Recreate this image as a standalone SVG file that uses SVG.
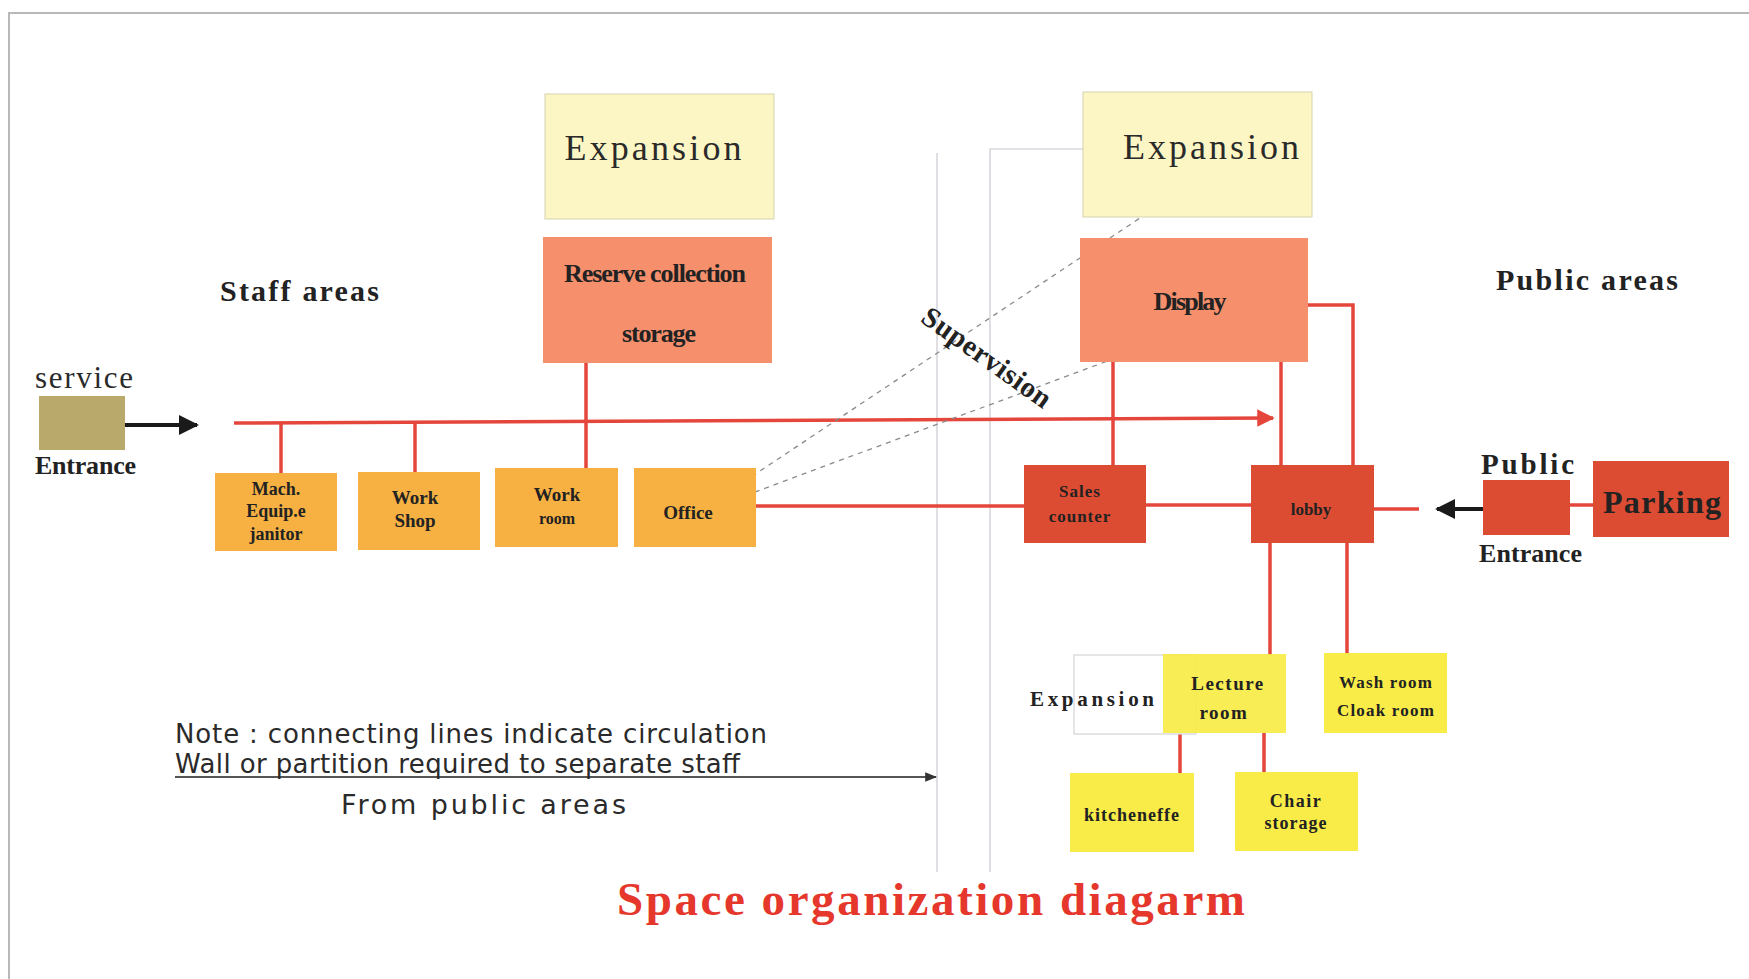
<svg xmlns="http://www.w3.org/2000/svg" width="1749" height="979" viewBox="0 0 1749 979">
<style>
.frame{stroke:#b8b8b8;stroke-width:2;fill:none}
.guide{stroke:#c8c8d0;stroke-width:1.2;fill:none}
.red{stroke:#e5463b;stroke-width:3.5;fill:none}
.blk{stroke:#1a1a1a;stroke-width:4;fill:none}
.dash{stroke:#8a8a8a;stroke-width:1.3;stroke-dasharray:5 5;fill:none}
.exp{fill:#fcf6c4;stroke:#d6d2b0;stroke-width:1}
.salmon{fill:#f58f6c}
.org{fill:#f6b142}
.rd{fill:#dc4c33}
.yel{fill:#f9ec48}
.bf{font-family:"Liberation Serif",serif;font-weight:bold;fill:#222}
.wf{font-family:"Liberation Serif",serif;fill:#2a2a2a}
.sf{font-family:"DejaVu Sans",sans-serif;fill:#2a2a2a}
.c{text-anchor:middle;dominant-baseline:central}
</style>
<defs>
<marker id="ab" viewBox="0 0 10 10" refX="9" refY="5" markerWidth="5" markerHeight="5" orient="auto" markerUnits="strokeWidth"><path d="M0,0 L10,5 L0,10 z" fill="#1a1a1a"/></marker>
<marker id="ar" viewBox="0 0 10 10" refX="9" refY="5" markerWidth="8" markerHeight="5" orient="auto" markerUnits="strokeWidth"><path d="M0,0 L10,5 L0,10 z" fill="#e5463b"/></marker>
<marker id="as" viewBox="0 0 10 10" refX="9" refY="5" markerWidth="6" markerHeight="6" orient="auto" markerUnits="strokeWidth"><path d="M0,1 L10,5 L0,9 z" fill="#333"/></marker>
</defs>
<rect width="1749" height="979" fill="#ffffff"/>
<path class="frame" d="M9,979 V13 H1749"/>
<g id="guides">
<path class="guide" d="M937,153 V872"/>
<path class="guide" d="M990,872 V149 H1107"/>
</g>
<g id="connectors">
<path class="red" d="M234,423 L1273,418" marker-end="url(#ar)"/>
<path class="red" d="M281,423 V473"/>
<path class="red" d="M415,423 V472"/>
<path class="red" d="M586,345 V485"/>
<path class="red" d="M756,506 H1024"/>
<path class="red" d="M1146,505 H1251"/>
<path class="red" d="M1374,509 H1419"/>
<path class="red" d="M1113,352 V465"/>
<path class="red" d="M1281,352 V465"/>
<path class="red" d="M1308,305 H1353 V465"/>
<path class="red" d="M1270,543 V655"/>
<path class="red" d="M1347,543 V653"/>
<path class="red" d="M1180,734 V773"/>
<path class="red" d="M1264,733 V772"/>
<path class="red" d="M1570,505 H1593"/>
<path class="blk" d="M125,425 H197" marker-end="url(#ab)"/>
<path class="blk" d="M1483,509 H1437" marker-end="url(#ab)"/>
<path class="dash" d="M727,493 L1149,212"/>
<path class="dash" d="M736,499 L1210,323"/>
<path stroke="#555" stroke-width="2" fill="none" d="M175,777 H936" marker-end="url(#as)"/>
</g>
<g id="labels">
<text class="bf" x="220" y="301" font-size="30" textLength="159">Staff areas</text>
<text class="bf" x="1496" y="290" font-size="30" textLength="182">Public areas</text>
<text class="wf" x="35" y="388" font-size="31" textLength="98">service</text>
<text class="bf" x="35" y="474" font-size="26" textLength="101">Entrance</text>
<text class="bf" x="1481" y="474" font-size="29" textLength="93">Public</text>
<text class="bf" x="1479" y="562" font-size="26" textLength="103">Entrance</text>
<text class="bf" transform="translate(987,357) rotate(35.5)" text-anchor="middle" dominant-baseline="central" font-size="29" textLength="152">Supervision</text>
<text class="sf" x="175" y="743" font-size="26" textLength="592">Note : connecting lines indicate circulation</text>
<text class="sf" x="175" y="773" font-size="26" textLength="565">Wall or partition required to separate staff</text>
<text class="sf" x="341" y="814" font-size="27" textLength="285">From public areas</text>
<text x="931" y="915" text-anchor="middle" font-family="Liberation Serif, serif" font-weight="bold" font-size="47" fill="#e5372c" textLength="628">Space organization diagarm</text>
</g>
<g id="service-entrance"><rect x="39" y="396" width="86" height="54" fill="#b9a96b"/></g>
<g id="expansion-staff"><rect class="exp" x="545" y="94" width="229" height="125"/><text class="wf c" x="653" y="148" font-size="36" textLength="177">Expansion</text></g>
<g id="reserve"><rect class="salmon" x="543" y="237" width="229" height="126"/><text class="bf c" x="655" y="273" font-size="26" textLength="182">Reserve collection</text><text class="bf c" x="659" y="333" font-size="26" textLength="74">storage</text></g>
<g id="mach"><rect class="org" x="215" y="473" width="122" height="78"/><text class="bf c" font-size="18" x="276" y="489">Mach.</text><text class="bf c" font-size="18" x="276" y="511">Equip.e</text><text class="bf c" font-size="18" x="276" y="534">janitor</text></g>
<g id="workshop"><rect class="org" x="358" y="472" width="122" height="78"/><text class="bf c" font-size="19" x="415" y="497">Work</text><text class="bf c" font-size="19" x="415" y="520">Shop</text></g>
<g id="workroom"><rect class="org" x="495" y="468" width="123" height="79"/><text class="bf c" font-size="19" x="557" y="494">Work</text><text class="bf c" font-size="16" x="557" y="518">room</text></g>
<g id="office"><rect class="org" x="634" y="468" width="122" height="79"/><text class="bf c" font-size="19" x="688" y="512">Office</text></g>
<g id="expansion-public"><rect class="exp" x="1083" y="92" width="229" height="125"/><text class="wf c" x="1211" y="147" font-size="36" textLength="176">Expansion</text></g>
<g id="display"><rect class="salmon" x="1080" y="238" width="228" height="124" fill="#f79568"/><text class="bf c" x="1190" y="301" font-size="26" textLength="73">Display</text></g>
<g id="sales"><rect class="rd" x="1024" y="465" width="122" height="78"/><text class="bf c" font-size="17" x="1080" y="491" letter-spacing="1">Sales</text><text class="bf c" font-size="17" x="1080" y="516" letter-spacing="1">counter</text></g>
<g id="lobby"><rect class="rd" x="1251" y="465" width="123" height="78"/><text class="bf c" font-size="17" x="1311" y="509">lobby</text></g>
<g id="public-entrance"><rect class="rd" x="1483" y="480" width="87" height="55"/></g>
<g id="parking"><rect class="rd" x="1593" y="461" width="136" height="76"/><text class="bf c" x="1662" y="502" font-size="32" textLength="118">Parking</text></g>
<g id="expansion-small"><rect x="1074" y="655" width="122" height="79" fill="#ffffff" stroke="#d4d4d4" stroke-width="1.2"/></g>
<g id="lecture"><rect class="yel" x="1163" y="654" width="123" height="79" fill-opacity="0.92"/><text class="bf c" font-size="19" x="1228" y="683" letter-spacing="1.5">Lecture</text><text class="bf c" font-size="19" x="1224" y="712" letter-spacing="1.5">room</text></g>
<text class="bf c" font-size="21" x="1092" y="699" textLength="124">Expansion</text>
<g id="washroom"><rect class="yel" x="1324" y="653" width="123" height="80"/><text class="bf c" font-size="17" x="1386" y="682" letter-spacing="1.2">Wash room</text><text class="bf c" font-size="17" x="1386" y="710" letter-spacing="1.2">Cloak room</text></g>
<g id="kitchenette"><rect class="yel" x="1070" y="773" width="124" height="79"/><text class="bf c" font-size="18" x="1132" y="815" letter-spacing="1">kitcheneffe</text></g>
<g id="chair"><rect class="yel" x="1235" y="772" width="123" height="79"/><text class="bf c" font-size="18" x="1296" y="801" letter-spacing="1.5">Chair</text><text class="bf c" font-size="18" x="1296" y="823" letter-spacing="1">storage</text></g>
</svg>
